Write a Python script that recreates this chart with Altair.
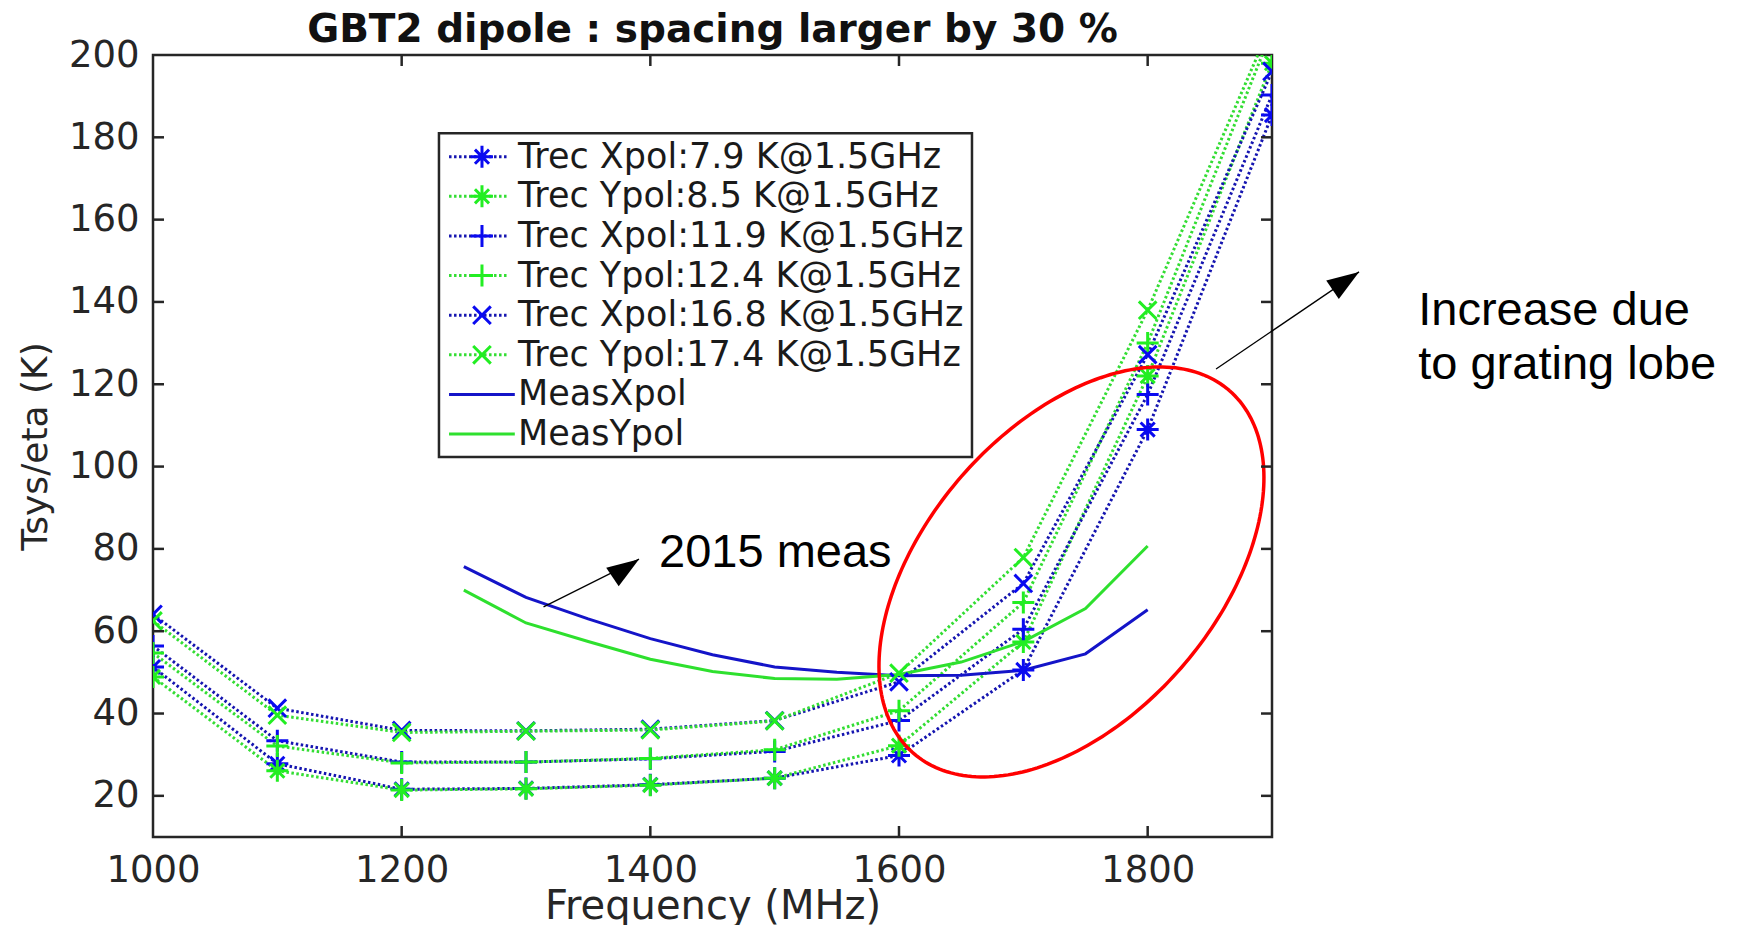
import altair as alt
import numpy as np
import pandas as pd

# ---------------- data ----------------
FREQ = [1000, 1100, 1200, 1300, 1400, 1500, 1600, 1700, 1800, 1900]
TREC_LABELS = [
    "Trec Xpol:7.9 K@1.5GHz",
    "Trec Ypol:8.5 K@1.5GHz",
    "Trec Xpol:11.9 K@1.5GHz",
    "Trec Ypol:12.4 K@1.5GHz",
    "Trec Xpol:16.8 K@1.5GHz",
    "Trec Ypol:17.4 K@1.5GHz",
]
TREC_X_79 = [51.3, 27.8, 21.6, 21.8, 22.7, 24.3, 29.8, 50.6, 109.0, 185.4]
TREC_Y_85 = [48.9, 26.1, 21.4, 21.7, 22.6, 24.3, 32.2, 57.4, 122.0, 198.0]
TREC_X_119 = [56.4, 33.4, 28.2, 28.2, 29.0, 30.8, 38.3, 60.5, 117.5, 190.3]
TREC_Y_124 = [54.7, 32.1, 28.0, 28.2, 29.1, 31.2, 40.7, 67.0, 130.0, 206.0]
TREC_X_168 = [64.1, 41.3, 35.9, 35.8, 36.2, 38.3, 47.7, 71.6, 127.2, 196.0]
TREC_Y_174 = [62.5, 39.6, 35.4, 35.7, 36.0, 38.2, 49.8, 77.9, 138.0, 208.0]
TREC_VALUES = [TREC_X_79, TREC_Y_85, TREC_X_119, TREC_Y_124, TREC_X_168, TREC_Y_174]

MEAS_LABELS = ["MeasXpol", "MeasYpol"]
MEAS_FREQ = [1250, 1300, 1350, 1400, 1450, 1500, 1550, 1600, 1650, 1700, 1750, 1800]
MEAS_X = [75.7, 68.2, 63.0, 58.2, 54.3, 51.3, 50.0, 49.2, 49.3, 50.5, 54.5, 65.2]
MEAS_Y = [70.0, 62.0, 57.5, 53.2, 50.2, 48.5, 48.3, 49.5, 52.5, 57.5, 65.5, 80.7]

X_TICKS = [1000, 1200, 1400, 1600, 1800]
X_TICKS_INNER = [1200, 1400, 1600, 1800]
Y_TICKS = [20, 40, 60, 80, 100, 120, 140, 160, 180, 200]
Y_TICKS_INNER = [20, 40, 60, 80, 100, 120, 140, 160, 180]

TITLE = "GBT2 dipole : spacing larger by 30 %"
NOTE_MEAS = "2015 meas"
NOTE_LOBE = ["Increase due", "to grating lobe"]

# ---------------- layout / style ----------------
W, H = 1119, 782
X_DOM = [1000, 1900]
Y_DOM = [10, 200]
AX = "#262626"
FONT = "DejaVu Sans"

LINE_COLORS = ["#1515B0", "#33DD33", "#1515B0", "#33DD33", "#1515B0", "#33DD33",
               "#1414C8", "#2EE02E"]
MARK_COLORS = ["#0A0AF0", "#22EE22", "#0A0AF0", "#22EE22", "#0A0AF0", "#22EE22"]
STAR = "M-1,0L1,0M0,-1L0,1M-0.64,-0.64L0.64,0.64M-0.64,0.64L0.64,-0.64"
PLUS = "M-1,0L1,0M0,-1L0,1"
CROSS = "M-0.8,-0.8L0.8,0.8M-0.8,0.8L0.8,-0.8"
SHAPES = [STAR, STAR, PLUS, PLUS, CROSS, CROSS]
ARROW_HEAD = "M0,0L-0.7,2L0.7,2Z"
MK_SIZE = 484
MK_W = 3
LN_W = 3

xs = alt.Scale(domain=X_DOM, nice=False, zero=False)
ys = alt.Scale(domain=Y_DOM, nice=False, zero=False)
stroke_scale = alt.Scale(domain=TREC_LABELS + MEAS_LABELS, range=LINE_COLORS)
color_scale = alt.Scale(domain=TREC_LABELS, range=MARK_COLORS)
shape_scale = alt.Scale(domain=TREC_LABELS, range=SHAPES)

x_axis = alt.Axis(values=X_TICKS, format="d", title="Frequency (MHz)", ticks=False,
                  domain=False, grid=False, labelFlush=False, labelOverlap=False,
                  labelPadding=15, labelFontSize=37, labelFont=FONT, labelColor=AX,
                  titleFont=FONT, titleFontSize=40, titleFontWeight="normal",
                  titleColor=AX, titlePadding=-2)
y_axis = alt.Axis(values=Y_TICKS, format="d", title="Tsys/eta (K)", ticks=False,
                  domain=False, grid=False, labelFlush=False, labelOverlap=False,
                  labelPadding=14, labelFontSize=37, labelFont=FONT, labelColor=AX,
                  titleFont=FONT, titleFontSize=36, titleFontWeight="normal",
                  titleColor=AX, titlePadding=14)


def X(field="freq"):
    return alt.X(f"{field}:Q", scale=xs, axis=x_axis)


def Y(field="val"):
    return alt.Y(f"{field}:Q", scale=ys, axis=y_axis)


# ---------------- tables ----------------
trec = pd.DataFrame([
    {"series": lab, "freq": f, "val": v}
    for lab, vals in zip(TREC_LABELS, TREC_VALUES)
    for f, v in zip(FREQ, vals)
])
meas = pd.DataFrame(
    [{"series": MEAS_LABELS[0], "freq": f, "val": v} for f, v in zip(MEAS_FREQ, MEAS_X)]
    + [{"series": MEAS_LABELS[1], "freq": f, "val": v} for f, v in zip(MEAS_FREQ, MEAS_Y)]
)

trec_lines = alt.Chart(trec).mark_line(strokeWidth=LN_W, strokeDash=[2.5, 2.5], clip=True).encode(
    x=X(), y=Y(),
    stroke=alt.Stroke("series:N", scale=stroke_scale, legend=None),
    detail="series:N",
)
trec_points = alt.Chart(trec).mark_point(filled=False, strokeWidth=MK_W, size=MK_SIZE, opacity=1,
                                         clip=True).encode(
    x=X(), y=Y(),
    color=alt.Color("series:N", scale=color_scale, legend=None),
    shape=alt.Shape("series:N", scale=shape_scale, legend=None),
)
meas_lines = alt.Chart(meas).mark_line(strokeWidth=3, clip=True).encode(
    x=X(), y=Y(),
    stroke=alt.Stroke("series:N", scale=stroke_scale, legend=None),
    detail="series:N",
)

# red ellipse (annotation, centre & axes)
E_CF, E_CV = 1738.7, 74.4
E_A, E_B, E_TH = 240.5, 145.7, 48.9
PXF = W / (X_DOM[1] - X_DOM[0])
PXV = H / (Y_DOM[1] - Y_DOM[0])
tt = np.linspace(0, 2 * np.pi, 241)
th = np.radians(E_TH)
edx = E_A * np.cos(tt) * np.cos(th) - E_B * np.sin(tt) * np.sin(th)
edy = E_A * np.cos(tt) * np.sin(th) + E_B * np.sin(tt) * np.cos(th)
ell = pd.DataFrame({"freq": E_CF + edx / PXF, "val": E_CV + edy / PXV, "k": np.arange(len(tt))})
ellipse = alt.Chart(ell).mark_line(color="#FF0000", strokeWidth=3.5, clip=False).encode(
    x=X(), y=Y(), order="k:Q")

# legend
LEG_BOX = {"freq": [1230.0], "freq2": [1658.7], "val": [181.0], "val2": [102.3]}
LEG_TOP, LEG_STEP = 175.3, 9.63
LEG_L0, LEG_L1, LEG_LM1, LEG_MK, LEG_TX = 1238.1, 1286.3, 1291.0, 1264.6, 1293.6
leg_labels = TREC_LABELS + MEAS_LABELS
leg = pd.DataFrame({"series": leg_labels,
                    "val": [LEG_TOP - i * LEG_STEP for i in range(len(leg_labels))]})
leg_dot = leg.iloc[:6].assign(freq=LEG_L0, freq2=LEG_L1)
leg_sol = leg.iloc[6:].assign(freq=LEG_L0, freq2=LEG_LM1)
leg_mk = leg.iloc[:6].assign(freq=LEG_MK)
leg_tx = leg.assign(freq=LEG_TX)

legend_box = alt.Chart(pd.DataFrame(LEG_BOX)).mark_rect(
    fill="white", stroke=AX, strokeWidth=2.5).encode(x=X(), x2="freq2:Q", y=Y(), y2="val2:Q")
legend_dot = alt.Chart(leg_dot).mark_rule(strokeWidth=LN_W, strokeDash=[2.5, 2.5]).encode(
    x=X(), x2="freq2:Q", y=Y(), stroke=alt.Stroke("series:N", scale=stroke_scale, legend=None))
legend_sol = alt.Chart(leg_sol).mark_rule(strokeWidth=3).encode(
    x=X(), x2="freq2:Q", y=Y(), stroke=alt.Stroke("series:N", scale=stroke_scale, legend=None))
legend_mk = alt.Chart(leg_mk).mark_point(filled=False, strokeWidth=MK_W, size=MK_SIZE,
                                         opacity=1).encode(
    x=X(), y=Y(),
    color=alt.Color("series:N", scale=color_scale, legend=None),
    shape=alt.Shape("series:N", scale=shape_scale, legend=None))
legend_tx = alt.Chart(leg_tx).mark_text(align="left", baseline="middle", font=FONT,
                                        fontSize=35, color="#1a1a1a").encode(
    x=X(), y=Y(), text="series:N")

# arrows and notes
ARROWS = {"freq": [1314.1, 1855.0], "val": [65.9, 123.7],
          "freq2": [1390.9, 1970.0], "val2": [77.5, 147.3], "ang": [56.1, 55.9]}
arr = pd.DataFrame(ARROWS)
arrow_lines = alt.Chart(arr).mark_rule(color="black", strokeWidth=1.3, clip=False).encode(
    x=X(), x2="freq2:Q", y=Y(), y2="val2:Q")
arrow_heads = alt.Chart(arr).mark_point(shape=ARROW_HEAD, filled=True, fill="black",
                                        strokeWidth=0, size=1024, opacity=1, clip=False).encode(
    x=X("freq2"), y=Y("val2"), angle=alt.Angle("ang:Q", scale=None))

NOTES = {"text": [NOTE_MEAS] + NOTE_LOBE, "freq": [1407.0, 2017.6, 2017.6],
         "val": [75.7, 134.5, 121.3]}
notes = alt.Chart(pd.DataFrame(NOTES)).mark_text(
    align="left", baseline="alphabetic", font="Liberation Sans", fontSize=47,
    color="black", clip=False).encode(x=X(), y=Y(), text="text:N")

# chart title as a text mark centred over the plot area
title_mark = alt.Chart(pd.DataFrame({"t": [TITLE]})).mark_text(
    align="center", baseline="alphabetic", font=FONT, fontSize=39, fontWeight="bold",
    color="#111111", clip=False).encode(x=alt.value(W / 2), y=alt.value(-13), text="t:N")

# inside tick marks
TL = 11
xt = pd.DataFrame({"freq": X_TICKS_INNER})
yt = pd.DataFrame({"val": Y_TICKS_INNER})
tick_b = alt.Chart(xt).mark_rule(color=AX, strokeWidth=2.5).encode(
    x=X(), y=alt.value(H), y2=alt.value(H - TL))
tick_t = alt.Chart(xt).mark_rule(color=AX, strokeWidth=2.5).encode(
    x=X(), y=alt.value(0), y2=alt.value(TL))
tick_l = alt.Chart(yt).mark_rule(color=AX, strokeWidth=2.5).encode(
    y=Y(), x=alt.value(0), x2=alt.value(TL))
tick_r = alt.Chart(yt).mark_rule(color=AX, strokeWidth=2.5).encode(
    y=Y(), x=alt.value(W), x2=alt.value(W - TL))

chart = alt.layer(
    trec_lines, meas_lines, trec_points, ellipse,
    legend_box, legend_dot, legend_sol, legend_mk, legend_tx,
    arrow_lines, arrow_heads, notes, title_mark,
    tick_b, tick_t, tick_l, tick_r,
).properties(
    width=W, height=H,
    background="white",
    autosize=alt.AutoSizeParams(type="none"),
    padding={"left": 145, "top": 47, "right": 453, "bottom": 88},
).configure_view(stroke=AX, strokeWidth=2.5)

chart.save("out.html", embed_options={"renderer": "svg", "actions": False})
